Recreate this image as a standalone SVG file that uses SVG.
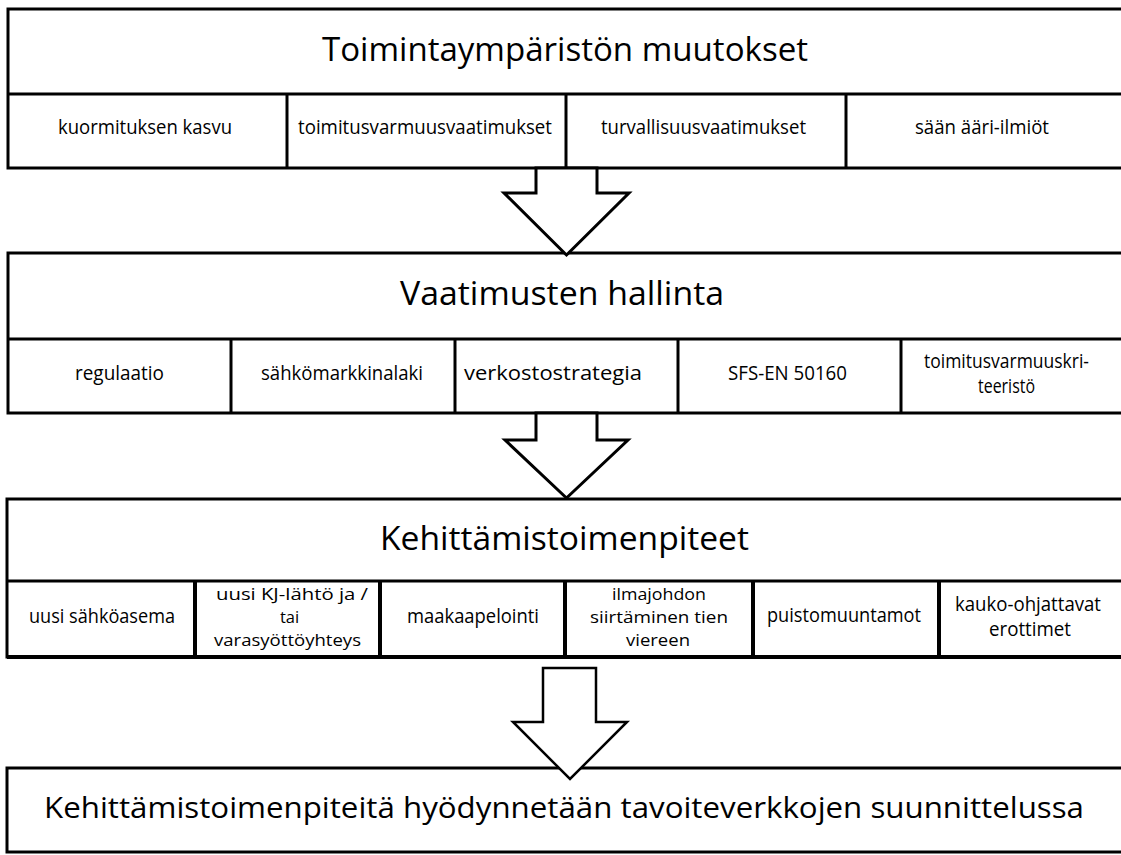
<svg xmlns="http://www.w3.org/2000/svg" width="1121" height="855" viewBox="0 0 1121 855">
<style>
.box{fill:#fff;stroke:#000;stroke-width:3}
.ln{stroke:#000;stroke-width:3;fill:none}
.ln4{stroke:#000;stroke-width:4;fill:none}
.arr{fill:#fff;stroke:#000;stroke-width:3;stroke-linejoin:miter}
.arr3{fill:#fff;stroke:#000;stroke-width:2.5;stroke-linejoin:miter}
text{font-family:"Open Sans","Liberation Sans",sans-serif;fill:#000}
.t{font-size:33px}
.s{font-size:19.5px}
.s3{font-size:16.5px}
</style>
<rect x="0" y="0" width="1121" height="855" fill="#fff"/>
<g id="toimintaymparisto">
<rect class="box" x="8" y="9" width="1125" height="159"/>
<line class="ln" x1="8" y1="94" x2="1133" y2="94"/>
<text class="t" x="322" y="61" textLength="486" lengthAdjust="spacingAndGlyphs">Toimintaympäristön muutokset</text>
<g id="c1-1"><text class="s" x="58" y="134" textLength="174" lengthAdjust="spacingAndGlyphs">kuormituksen kasvu</text></g>
<g id="c1-2"><line class="ln" x1="287" y1="94" x2="287" y2="168"/><text class="s" x="298" y="134" textLength="254" lengthAdjust="spacingAndGlyphs">toimitusvarmuusvaatimukset</text></g>
<g id="c1-3"><line class="ln" x1="566" y1="94" x2="566" y2="168"/><text class="s" x="601" y="134" textLength="205" lengthAdjust="spacingAndGlyphs">turvallisuusvaatimukset</text></g>
<g id="c1-4"><line class="ln" x1="846" y1="94" x2="846" y2="168"/><text class="s" x="915" y="134" textLength="134" lengthAdjust="spacingAndGlyphs">sään ääri-ilmiöt</text></g>
</g>
<g id="vaatimusten-hallinta">
<rect class="box" x="8" y="253" width="1125" height="160"/>
<line class="ln" x1="8" y1="339" x2="1133" y2="339"/>
<text class="t" x="400" y="305" textLength="324" lengthAdjust="spacingAndGlyphs">Vaatimusten hallinta</text>
<g id="c2-1"><text class="s" x="75" y="380" textLength="89" lengthAdjust="spacingAndGlyphs">regulaatio</text></g>
<g id="c2-2"><line class="ln" x1="231" y1="339" x2="231" y2="413"/><text class="s" x="261" y="380" textLength="162" lengthAdjust="spacingAndGlyphs">sähkömarkkinalaki</text></g>
<g id="c2-3"><line class="ln" x1="455" y1="339" x2="455" y2="413"/><text class="s" x="464" y="380" textLength="178" lengthAdjust="spacingAndGlyphs">verkostostrategia</text></g>
<g id="c2-4"><line class="ln" x1="678" y1="339" x2="678" y2="413"/><text class="s" x="728" y="380" textLength="119" lengthAdjust="spacingAndGlyphs">SFS-EN 50160</text></g>
<g id="c2-5"><line class="ln" x1="901" y1="339" x2="901" y2="413"/><text class="s" x="924" y="368" textLength="165" lengthAdjust="spacingAndGlyphs">toimitusvarmuuskri-</text><text class="s" x="978" y="393" textLength="57" lengthAdjust="spacingAndGlyphs">teeristö</text></g>
</g>
<g id="kehittamistoimenpiteet">
<rect class="box" x="7" y="499" width="1126" height="158"/>
<line class="ln4" x1="7" y1="657" x2="1133" y2="657"/>
<line class="ln" x1="7" y1="581" x2="1133" y2="581"/>
<text class="t" x="380" y="550" textLength="369" lengthAdjust="spacingAndGlyphs">Kehittämistoimenpiteet</text>
<g id="c3-1"><text class="s" x="29" y="623" textLength="146" lengthAdjust="spacingAndGlyphs">uusi sähköasema</text></g>
<g id="c3-2"><line class="ln4" x1="195" y1="581" x2="195" y2="657"/><text class="s3" x="216" y="600" textLength="152" lengthAdjust="spacingAndGlyphs">uusi KJ-lähtö ja /</text><text class="s3" x="289.5" y="623" text-anchor="middle">tai</text><text class="s3" x="214" y="646" textLength="147" lengthAdjust="spacingAndGlyphs">varasyöttöyhteys</text></g>
<g id="c3-3"><line class="ln4" x1="380" y1="581" x2="380" y2="657"/><text class="s" x="407" y="623" textLength="132" lengthAdjust="spacingAndGlyphs">maakaapelointi</text></g>
<g id="c3-4"><line class="ln4" x1="565" y1="581" x2="565" y2="657"/><text class="s3" x="612" y="600" textLength="94" lengthAdjust="spacingAndGlyphs">ilmajohdon</text><text class="s3" x="590" y="623" textLength="138" lengthAdjust="spacingAndGlyphs">siirtäminen tien</text><text class="s3" x="626" y="646" textLength="64" lengthAdjust="spacingAndGlyphs">viereen</text></g>
<g id="c3-5"><line class="ln4" x1="753" y1="581" x2="753" y2="657"/><text class="s" x="767" y="622" textLength="154" lengthAdjust="spacingAndGlyphs">puistomuuntamot</text></g>
<g id="c3-6"><line class="ln4" x1="939" y1="581" x2="939" y2="657"/><text class="s" x="955" y="611" textLength="146" lengthAdjust="spacingAndGlyphs">kauko-ohjattavat</text><text class="s" x="989" y="636" textLength="82" lengthAdjust="spacingAndGlyphs">erottimet</text></g>
</g>
<g id="tavoiteverkot">
<rect class="box" x="7" y="768" width="1126" height="84"/>
<text class="t" style="font-size:30px" x="44" y="818" textLength="1040" lengthAdjust="spacingAndGlyphs">Kehittämistoimenpiteitä hyödynnetään tavoiteverkkojen suunnittelussa</text>
</g>
<g id="connectors">
<polygon class="arr" points="536,168 597,168 597,193 629,193 566.5,255 504,193 536,193"/>
<polygon class="arr" points="536,413 597,413 597,440 628,440 566.5,498 505,440 536,440"/>
<polygon class="arr3" points="543,668 596,668 596,722 627,722 570,779 513,722 543,722"/>
</g>
</svg>
